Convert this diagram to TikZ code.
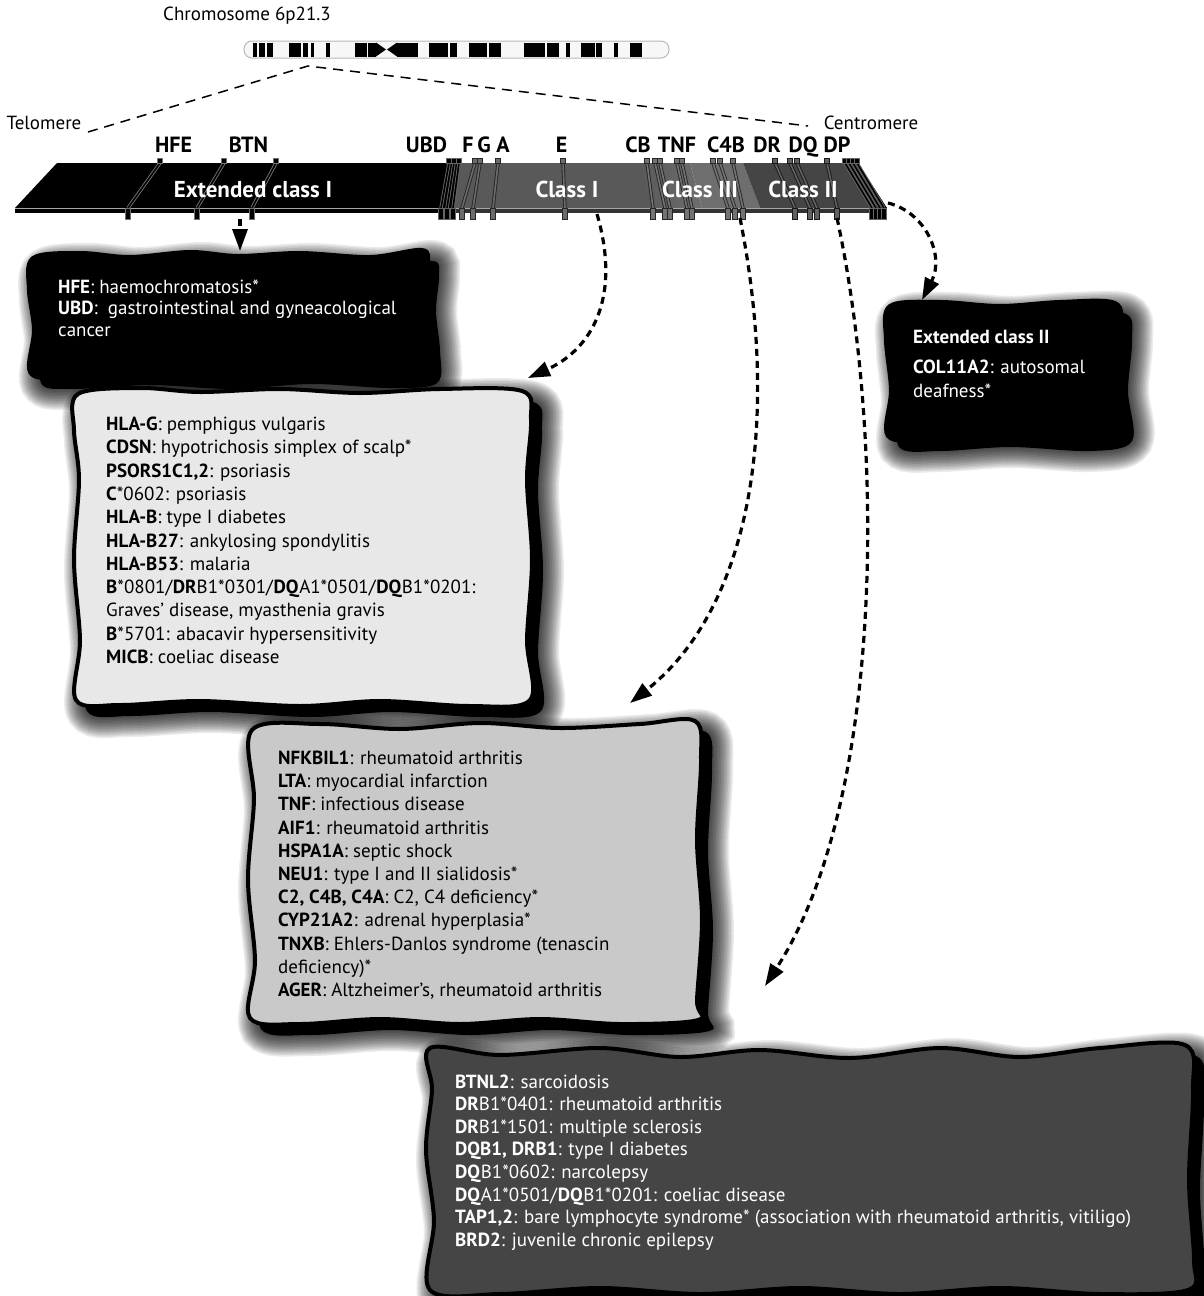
\documentclass[tikz,border=0pt]{standalone}
\usepackage{fontspec}
\setmainfont{PT Sans}
\usetikzlibrary{arrows.meta}

\definecolor{clsone}{gray}{0.35}
\definecolor{clsthree}{gray}{0.43}
\definecolor{clstwo}{gray}{0.27}
\definecolor{boxlight}{gray}{0.91}
\definecolor{boxmid}{gray}{0.79}
\definecolor{boxdark}{gray}{0.27}

\tikzset{
  geneLabel/.style={font=\fontsize{22}{26}\selectfont\bfseries, inner sep=0, anchor=base},
  regionLabel/.style={font=\fontsize{23}{26}\selectfont\bfseries, text=white, inner sep=0, anchor=base},
  plainLabel/.style={font=\fontsize{19}{23}\selectfont, inner sep=0},
  boxText/.style={align=left, inner sep=0, anchor=north west},
  linkArrow/.style={line width=3.2pt, dash pattern=on 7pt off 5pt, -{Triangle[length=22pt,width=15pt]}},
  zoomLine/.style={line width=1.5pt, dash pattern=on 10pt off 7pt},
  boxEdge/.style={line width=4pt, line join=round},
  wavy/.style={smooth cycle, tension=0.55},
}

% one gene marker on the slab: top x, bottom x, edge colour, core colour
\newcommand{\genetick}[4]{%
  \draw[#3, line width=3.4pt] (#1,163) -- (#2,208);
  \draw[#4, line width=1.6pt] (#1,163) -- (#2,208);
  \filldraw[fill=#4, draw=#3, line width=0.8pt] (#1-2.6,158.5) rectangle (#1+2.6,163);
  \filldraw[fill=#4, draw=#3, line width=0.8pt] (#2-2.6,208) rectangle (#2+2.6,219);
}

% soft drop shadow under a wavy box: solid core plus a fading halo
\newcommand{\boxshadow}[1]{%
  \begin{scope}[shift={(11,11)}]
    \fill[black] plot[wavy] coordinates {#1};
    \foreach \w in {3,6,...,42}
      {\draw[black, opacity=0.08, line width=\w pt] plot[wavy] coordinates {#1};}
  \end{scope}}

\begin{document}
\begin{tikzpicture}[x=1pt,y=-1pt]
\useasboundingbox (0,0) rectangle (1203,1296);
\fill[white] (0,0) rectangle (1203,1296);

% ---------------- chromosome ideogram ----------------
\node[plainLabel, anchor=west] (chromlabel) at (163,16) {Chromosome 6p21.3};
\draw[gray!55, line width=1pt, fill=gray!6, rounded corners=8pt] (244,41) rectangle (669,58);
\foreach \xa/\xb in {252.7/256.5, 259/265, 267/273, 289/301, 302.5/308, 311/313.6, 326/330,
                   355/366.5, 367.6/376, 397/418, 429/448, 450/456.5, 469/487, 489/500.6,
                   523.6/544.6, 546.5/559, 565.8/569.7, 581/594.5, 595.6/602, 613.6/618, 629.7/642}
  {\fill[black] (\xa,42.5) rectangle (\xb,56.5);}
\fill[black] (376,42.5) -- (386,49.5) -- (376,56.5) -- cycle;
\fill[black] (397,42.5) -- (387,49.5) -- (397,56.5) -- cycle;

% zoom lines from the ideogram to the expanded region
\coordinate (apex) at (308,66);
\coordinate (telend) at (88,132);
\coordinate (cenend) at (808,126);
\draw[zoomLine] (telend) -- (apex) -- (cenend);
\node[plainLabel] (telomere) at (44,123) {Telomere};
\node[plainLabel] (centromere) at (871,123) {Centromere};

% ---------------- the expanded MHC slab ----------------
\fill[black]    (57,163) -- (460,163) -- (454,208) -- (15,208) -- cycle;
\fill[clsone]   (460,163) -- (668,163) -- (680,208) -- (454,208) -- cycle;
\shade[left color=clsone, right color=clsthree] (640,163) -- (690,163) -- (702,208) -- (652,208) -- cycle;
\fill[clsthree] (690,163) -- (743,163) -- (760,208) -- (702,208) -- cycle;
\fill[clstwo]   (743,163) -- (846,163) -- (874,208) -- (760,208) -- cycle;
\fill[black]    (846,163) -- (858,163) -- (887,208) -- (874,208) -- cycle;
% underside of the slab
\fill[black]  (15,208) rectangle (454,212.5);
\fill[black!80] (454,208) rectangle (887,212.5);
\draw[gray!70, line width=0.6pt] (15,208) -- (887,208);

% gene markers
\foreach \tp/\bt in {160/128, 224/197, 276/252}
  {\genetick{\tp}{\bt}{black!55}{black}}
\foreach \tp/\bt in {449/441, 454/447, 459/453}
  {\genetick{\tp}{\bt}{black!60}{black}}
\foreach \tp/\bt in {475/462, 480/473, 498/493, 563/565}
  {\genetick{\tp}{\bt}{black!85}{black!58}}
\foreach \tp/\bt in {647/653, 655/665, 660/670, 677/687, 682/692, 713/728, 720/735, 733/743}
  {\genetick{\tp}{\bt}{black!85}{black!55}}
\foreach \tp/\bt in {775/795, 790/810, 797/817, 827/837}
  {\genetick{\tp}{\bt}{black!90}{black!62}}
\foreach \tp/\bt in {845/872, 849/876, 853/880, 857/884}
  {\genetick{\tp}{\bt}{black!60}{black}}

% gene names
\node[geneLabel] (hfe) at (173.5,152) {HFE};
\node[geneLabel] (btn) at (248.5,152) {BTN};
\node[geneLabel] (ubd) at (426.5,152) {UBD};
\node[geneLabel] (gf) at (468,152) {F};
\node[geneLabel] (gg) at (484,152) {G};
\node[geneLabel] (ga) at (503,152) {A};
\node[geneLabel] (ge) at (561.5,152) {E};
\node[geneLabel] (cb) at (638,152) {CB};
\node[geneLabel] (tnf) at (677,152) {TNF};
\node[geneLabel] (c4b) at (726,152) {C4B};
\node[geneLabel] (dr) at (767,152) {DR};
\node[geneLabel] (dq) at (803,152) {DQ};
\node[geneLabel] (dp) at (837,152) {DP};

% region names on the slab
\node[regionLabel] (extI) at (253,197) {Extended class I};
\node[regionLabel] (clsI) at (567,197) {Class I};
\node[regionLabel] (clsIII) at (700,197) {Class III};
\node[regionLabel] (clsII) at (803,197) {Class II};

% ---------------- disease boxes ----------------
% extended class I
\def\boxA{(33,258) (80,253) (130,257) (190,252) (238,256) (300,253) (370,257) (422,250) (428,265) (425,300) (429,340) (426,372) (380,377) (300,373) (220,378) (140,374) (60,378) (30,372) (34,330) (29,290)}
\boxshadow{\boxA}
\filldraw[fill=black, draw=black, boxEdge] plot[wavy] coordinates {\boxA};
\node[boxText, text=white, font=\fontsize{19}{21.5}\selectfont] (hfebox) at (58,278)
  {\strut\textbf{HFE}: haemochromatosis*\\
   \textbf{UBD}:\ \ gastrointestinal and gyneacological\\
   cancer};

% extended class II
\def\boxE{(890,306) (940,302) (1000,306) (1060,302) (1115,303) (1121,330) (1117,380) (1121,430) (1080,440) (1000,436) (930,440) (888,436) (891,390) (886,340)}
\boxshadow{\boxE}
\filldraw[fill=black, draw=black, boxEdge] plot[wavy] coordinates {\boxE};
\node[boxText, text=white, font=\fontsize{19}{23.3}\selectfont] (col11box) at (913,327)
  {\strut\textbf{Extended class II}\\[7pt]
   \textbf{COL11A2}: autosomal\\
   deafness*};

% class I
\def\boxB{(78,394) (140,388) (200,392) (280,389) (360,393) (440,389) (522,391) (531,420) (527,480) (532,560) (527,640) (530,700) (470,706) (380,701) (300,706) (200,701) (120,705) (76,700) (80,640) (74,560) (79,480) (74,430)}
\boxshadow{\boxB}
\filldraw[fill=boxlight, draw=black, boxEdge] plot[wavy] coordinates {\boxB};
\node[boxText, font=\fontsize{19}{23.3}\selectfont] (hlabox) at (106,414)
  {\strut\textbf{HLA-G}: pemphigus vulgaris\\
   \textbf{CDSN}: hypotrichosis simplex of scalp*\\
   \textbf{PSORS1C1,2}: psoriasis\\
   \textbf{C}*0602: psoriasis\\
   \textbf{HLA-B}: type I diabetes\\
   \textbf{HLA-B27}: ankylosing spondylitis\\
   \textbf{HLA-B53}: malaria\\
   \textbf{B}*0801/\textbf{DR}B1*0301/\textbf{DQ}A1*0501/\textbf{DQ}B1*0201:\\
   Graves’ disease, myasthenia gravis\\
   \textbf{B}*5701: abacavir hypersensitivity\\
   \textbf{MICB}: coeliac disease};

% class III
\def\boxC{(252,730) (320,724) (400,729) (480,723) (560,728) (640,724) (695,721) (701,760) (697,840) (702,920) (697,1000) (698,1020) (620,1024) (540,1019) (460,1024) (380,1019) (300,1024) (250,1018) (255,960) (248,880) (254,800)}
\boxshadow{\boxC}
\filldraw[fill=boxmid, draw=black, boxEdge] plot[wavy] coordinates {\boxC};
\node[boxText, font=\fontsize{19}{23.2}\selectfont] (tnfbox) at (278,748)
  {\strut\textbf{NFKBIL1}: rheumatoid arthritis\\
   \textbf{LTA}: myocardial infarction\\
   \textbf{TNF}: infectious disease\\
   \textbf{AIF1}: rheumatoid arthritis\\
   \textbf{HSPA1A}: septic shock\\
   \textbf{NEU1}: type I and II sialidosis*\\
   \textbf{C2, C4B, C4A}: C2, C4 deficiency*\\
   \textbf{CYP21A2}: adrenal hyperplasia*\\
   \textbf{TNXB}: Ehlers-Danlos syndrome (tenascin\\
   deficiency)*\\
   \textbf{AGER}: Altzheimer’s, rheumatoid arthritis};

% class II
\def\boxD{(430,1048) (500,1055) (600,1048) (680,1057) (760,1050) (850,1058) (940,1048) (1020,1057) (1100,1048) (1185,1045) (1193,1090) (1189,1180) (1194,1260) (1188,1290) (1100,1294) (1000,1288) (900,1294) (800,1288) (700,1294) (600,1288) (500,1294) (430,1290) (434,1220) (426,1150) (432,1090)}
\boxshadow{\boxD}
\filldraw[fill=boxdark, draw=black, boxEdge] plot[wavy] coordinates {\boxD};
\node[boxText, text=white, font=\fontsize{19}{22.6}\selectfont] (drbox) at (455,1072)
  {\strut\textbf{BTNL2}: sarcoidosis\\
   \textbf{DR}B1*0401: rheumatoid arthritis\\
   \textbf{DR}B1*1501: multiple sclerosis\\
   \textbf{DQB1, DRB1}: type I diabetes\\
   \textbf{DQ}B1*0602: narcolepsy\\
   \textbf{DQ}A1*0501/\textbf{DQ}B1*0201: coeliac disease\\
   \textbf{TAP1,2}: bare lymphocyte syndrome* (association with rheumatoid arthritis, vitiligo)\\
   \textbf{BRD2}: juvenile chronic epilepsy};

% ---------------- connectors ----------------
\coordinate (btnfoot) at (240,219);
\coordinate (hfetip) at (240,251);
\coordinate (clsIfoot) at (597,214);
\coordinate (hlatip) at (528,378);
\coordinate (clsIIIfoot) at (740,218);
\coordinate (tnftip) at (630,703);
\coordinate (clsIIfoot) at (837,218);
\coordinate (drtip) at (765,986);
\coordinate (slabend) at (888,203);
\coordinate (col11tip) at (922,300);

\draw[linkArrow] (btnfoot) -- (hfetip);
\draw[linkArrow] (clsIfoot) .. controls (622,300) and (590,350) .. (hlatip);
\draw[linkArrow] (clsIIIfoot) .. controls (782,430) and (748,610) .. (tnftip);
\draw[linkArrow] (clsIIfoot) .. controls (885,440) and (885,800) .. (drtip);
\draw[linkArrow] (slabend) .. controls (925,212) and (945,255) .. (col11tip);
\end{tikzpicture}
\end{document}
